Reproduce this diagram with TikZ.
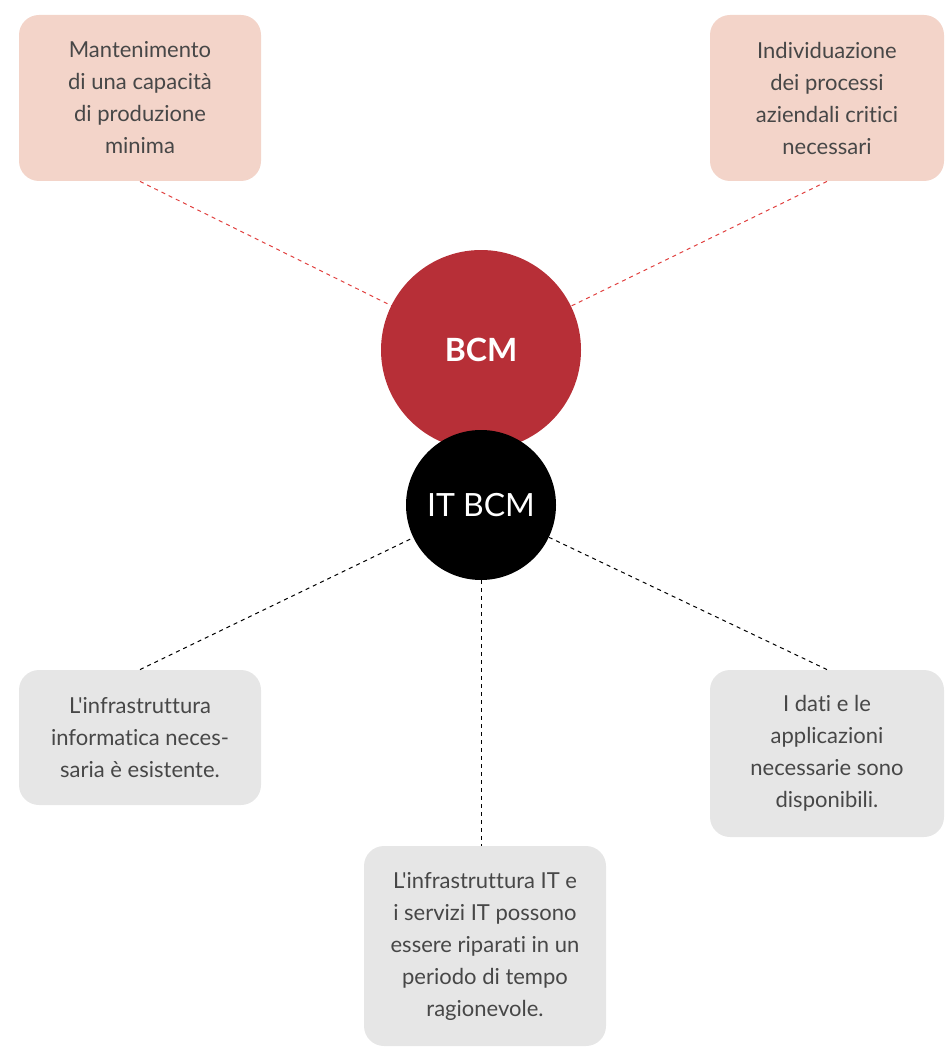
\documentclass[tikz,border=0pt]{standalone}
\usepackage{fontspec}
\setmainfont{Lato}[Ligatures=TeXOff,RawFeature=-liga]
\usepackage{tikz}
\definecolor{bcmred}{HTML}{B72F37}
\definecolor{pinkbox}{HTML}{F3D4C9}
\definecolor{greybox}{HTML}{E6E6E6}
\definecolor{boxtext}{HTML}{474747}
\definecolor{reddash}{HTML}{E0403F}
\begin{document}
\begin{tikzpicture}[x=0.5pt,y=-0.5pt,
	pinkcard/.style={fill=pinkbox,rounded corners=10pt,align=center,text=boxtext,font=\fontsize{11}{16}\selectfont,inner sep=0pt},
	greycard/.style={fill=greybox,rounded corners=10pt,align=center,text=boxtext,font=\fontsize{11}{16}\selectfont,inner sep=0pt},
	reddashed/.style={draw=reddash,line width=0.5pt,dash pattern=on 2pt off 2pt},
	blackdashed/.style={draw=black,line width=0.5pt,dash pattern=on 2pt off 2pt}]
			\useasboundingbox (0,0) rectangle (944,1048);
			
			\node[pinkcard,minimum width=121pt,minimum height=83pt] (mant)at(140,98) {Mantenimento\\di una capacità\\di produzione\\minima};
			\node[pinkcard,minimum width=117pt,minimum height=83pt] (indiv)at(827,98) {Individuazione\\dei processi\\aziendali critici\\necessari};
			\node[greycard,minimum width=121pt,minimum height=67.5pt] (infra)at(140,737.5) {L'infrastruttura\\informatica neces-\\saria è esistente.};
			\node[greycard,minimum width=117pt,minimum height=83.5pt] (dati)at(827,753.5) {I dati e le\\applicazioni\\necessarie sono\\disponibili.};
			\node[greycard,minimum width=121pt,minimum height=100pt] (serv)at(485,946) {L'infrastruttura IT e\\i servizi IT possono\\essere riparati in un\\periodo di tempo\\ragionevole.};
			
			\draw[reddashed] (mant.south) -- (481,350);
			\draw[reddashed] (indiv.south) -- (481,350);
			
			\node[circle,fill=bcmred,minimum size=100pt,inner sep=0pt,text=white,font=\fontsize{16}{19}\selectfont\bfseries] (bcm)at(481,350) {BCM};
			\node[circle,fill=black,minimum size=75pt,inner sep=0pt,text=white,font=\fontsize{16}{19}\selectfont] (itbcm)at(481,505) {IT BCM};
			
			\draw[blackdashed] (infra.north) -- (itbcm);
			\draw[blackdashed] (dati.north) -- (itbcm);
			\draw[blackdashed] (itbcm.south) -- (itbcm.south |- serv.north);
		\end{tikzpicture}
\end{document}
